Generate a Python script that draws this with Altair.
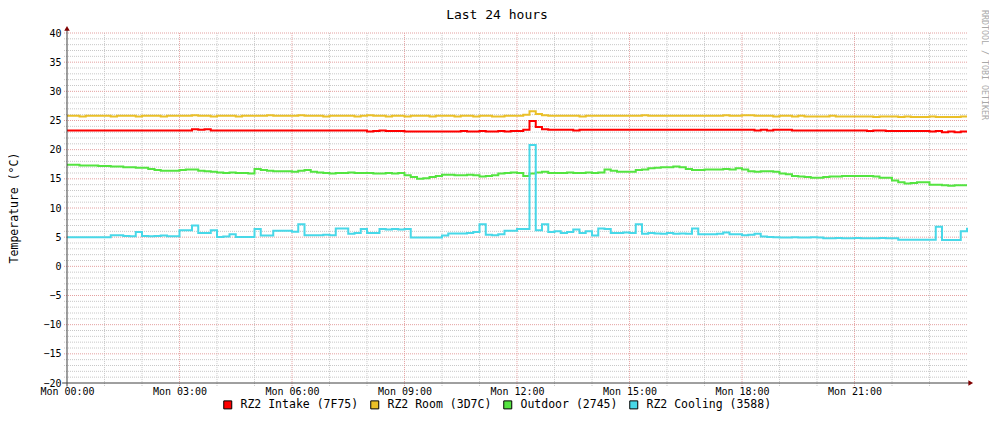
import altair as alt
import pandas as pd

# ---------------- text ----------------
title_text = "Last 24 hours"
y_title = "Temperature (°C)"
watermark_text = "RRDTOOL / TOBI OETIKER"

series_names = ["RZ2 Intake (7F75)", "RZ2 Room (3D7C)", "Outdoor (2745)", "RZ2 Cooling (3588)"]
series_colors = ["#FF0000", "#EAC028", "#54E440", "#48D8E8"]

x_tick_hours = [0, 3, 6, 9, 12, 15, 18, 21]
x_tick_labels = ["Mon 00:00", "Mon 03:00", "Mon 06:00", "Mon 09:00",
                 "Mon 12:00", "Mon 15:00", "Mon 18:00", "Mon 21:00"]
y_ticks = [-20, -15, -10, -5, 0, 5, 10, 15, 20, 25, 30, 35, 40]
y_minor = list(range(-20, 41))
x_minor = list(range(0, 24))

steps_per_hour = 6  # one sample every 10 minutes

# ---------------- series (°C), 10-minute samples, 00:00 .. 24:00 ----------------
intake = [
    23.3, 23.3, 23.3, 23.3, 23.3, 23.3,
    23.3, 23.3, 23.3, 23.3, 23.3, 23.3,
    23.3, 23.3, 23.3, 23.3, 23.3, 23.3,
    23.3, 23.3, 23.5, 23.4, 23.5, 23.3,
    23.3, 23.3, 23.3, 23.3, 23.3, 23.3,
    23.3, 23.3, 23.3, 23.3, 23.3, 23.3,
    23.3, 23.3, 23.3, 23.3, 23.3, 23.3,
    23.3, 23.3, 23.3, 23.3, 23.3, 23.3,
    23.1, 23.2, 23.3, 23.2, 23.2, 23.2,
    23.1, 23.1, 23.1, 23.1, 23.1, 23.1,
    23.1, 23.1, 23.1, 23.2, 23.1, 23.1,
    23.2, 23.1, 23.1, 23.2, 23.1, 23.2,
    23.2, 23.4, 24.9, 23.9, 23.5, 23.4,
    23.4, 23.4, 23.4, 23.3, 23.4, 23.4,
    23.4, 23.4, 23.4, 23.4, 23.4, 23.4,
    23.4, 23.4, 23.4, 23.4, 23.4, 23.4,
    23.4, 23.4, 23.4, 23.4, 23.4, 23.4,
    23.4, 23.4, 23.4, 23.4, 23.4, 23.4,
    23.4, 23.4, 23.3, 23.4, 23.3, 23.4,
    23.4, 23.4, 23.3, 23.3, 23.3, 23.3,
    23.3, 23.3, 23.3, 23.3, 23.3, 23.3,
    23.3, 23.3, 23.2, 23.3, 23.3, 23.2,
    23.2, 23.2, 23.2, 23.2, 23.2, 23.2,
    23.1, 23.2, 23.0, 23.1, 23.0, 23.1,
    23.1,
]

room = [
    25.8, 25.8, 25.7, 25.8, 25.8, 25.8,
    25.8, 25.7, 25.8, 25.8, 25.8, 25.7,
    25.8, 25.8, 25.8, 25.7, 25.8, 25.8,
    25.8, 25.8, 25.9, 25.8, 25.8, 25.7,
    25.8, 25.8, 25.8, 25.7, 25.8, 25.8,
    25.8, 25.8, 25.9, 25.8, 25.8, 25.8,
    25.8, 25.9, 25.8, 25.8, 25.8, 25.7,
    25.8, 25.8, 25.8, 25.8, 25.7, 25.8,
    25.9, 25.8, 25.8, 25.7, 25.8, 25.8,
    25.7, 25.8, 25.8, 25.8, 25.7, 25.8,
    25.8, 25.8, 25.7, 25.8, 25.8, 25.7,
    25.8, 25.8, 25.7, 25.7, 25.8, 25.8,
    25.8, 26.0, 26.6, 26.1, 25.9, 25.8,
    25.8, 25.8, 25.8, 25.8, 25.7, 25.8,
    25.8, 25.8, 25.8, 25.8, 25.8, 25.8,
    25.8, 25.8, 25.9, 25.8, 25.8, 25.8,
    25.8, 25.8, 25.8, 25.8, 25.8, 25.8,
    25.8, 25.8, 25.8, 25.9, 25.8, 25.8,
    25.9, 25.9, 25.8, 25.8, 25.8, 25.7,
    25.8, 25.8, 25.7, 25.8, 25.7, 25.7,
    25.7, 25.7, 25.8, 25.7, 25.7, 25.7,
    25.7, 25.7, 25.7, 25.6, 25.7, 25.7,
    25.7, 25.6, 25.7, 25.6, 25.6, 25.6,
    25.7, 25.6, 25.6, 25.6, 25.6, 25.7,
    25.7,
]

outdoor = [
    17.4, 17.4, 17.3, 17.3, 17.3, 17.2,
    17.2, 17.1, 17.1, 17.0, 17.0, 16.9,
    16.9, 16.7, 16.5, 16.4, 16.4, 16.4,
    16.5, 16.6, 16.6, 16.4, 16.3, 16.2,
    16.1, 16.0, 16.1, 16.0, 16.0, 15.9,
    16.7, 16.5, 16.4, 16.3, 16.3, 16.3,
    16.2, 16.4, 16.5, 16.2, 16.1, 16.0,
    15.9, 16.0, 16.0, 16.1, 16.0, 16.0,
    16.0, 15.9, 15.9, 16.0, 15.9, 16.0,
    15.6, 15.3, 15.0, 15.1, 15.3, 15.5,
    15.7, 15.7, 15.6, 15.6, 15.7, 15.6,
    15.4, 15.5, 15.6, 15.9, 16.0, 16.1,
    16.0, 15.5, 15.9, 16.1, 16.2, 16.0,
    16.0, 16.0, 16.1, 16.0, 16.0, 16.1,
    16.0, 16.1, 16.6, 16.4, 16.2, 16.2,
    16.2, 16.5, 16.6, 16.8, 16.9, 17.0,
    17.0, 17.1, 17.0, 16.7, 16.5, 16.5,
    16.6, 16.6, 16.6, 16.7, 16.6, 16.8,
    16.6, 16.3, 16.2, 16.3, 16.3, 16.2,
    15.9, 15.8, 15.5, 15.4, 15.3, 15.2,
    15.2, 15.3, 15.4, 15.4, 15.5, 15.5,
    15.5, 15.5, 15.5, 15.4, 15.2, 15.2,
    14.7, 14.4, 14.2, 14.3, 14.4, 14.4,
    14.0, 14.0, 13.9, 13.8, 13.9, 13.9,
    13.9,
]

cooling = [
    5.0, 5.0, 5.0, 5.0, 5.0, 5.0,
    5.0, 5.35, 5.35, 5.2, 5.15, 5.9,
    5.2, 5.15, 5.2, 5.3, 5.15, 5.15,
    6.2, 6.2, 7.0, 5.7, 5.7, 6.2,
    5.05, 5.1, 5.5, 5.05, 5.05, 5.05,
    6.4, 5.3, 5.3, 6.1, 6.1, 6.1,
    5.95, 7.2, 5.35, 5.35, 5.35, 5.4,
    5.35, 6.5, 6.5, 5.6, 5.7, 6.4,
    5.7, 5.7, 6.4, 6.3, 6.4, 6.3,
    6.4, 4.95, 4.95, 4.95, 4.95, 4.95,
    5.3, 5.65, 5.65, 5.65, 5.7, 5.9,
    7.2, 5.4, 5.35, 5.5, 6.1, 6.1,
    6.4, 6.4, 20.8, 6.2, 7.2, 5.9,
    6.0, 5.7, 5.9, 6.3, 5.7, 6.0,
    5.3, 6.5, 6.4, 5.7, 5.7, 5.8,
    5.7, 7.2, 5.6, 5.7, 5.65, 5.6,
    5.7, 5.6, 5.65, 5.6, 6.5, 5.5,
    5.5, 5.5, 5.6, 5.8, 5.5, 5.5,
    5.35, 5.4, 5.6, 5.1, 5.05, 5.0,
    4.95, 4.95, 5.0, 4.95, 4.95, 5.0,
    4.95, 4.8, 4.8, 4.85, 4.8, 4.8,
    4.85, 4.8, 4.8, 4.8, 4.85, 4.8,
    4.8, 4.55, 4.55, 4.55, 4.55, 4.55,
    4.55, 6.8, 4.5, 4.5, 4.5, 6.0,
    6.6,
]

# ---------------- tables ----------------
hours = [i / steps_per_hour for i in range(len(intake))]
rows = []
for name, col, vals in zip(series_names, series_colors, [intake, room, outdoor, cooling]):
    for h, v in zip(hours, vals):
        rows.append({"hour": h, "temp": v, "series": name, "col": col})
df = pd.DataFrame(rows)
legend_df = pd.DataFrame({"series": series_names})

W, H = 900, 350
FONT = "DejaVu Sans Mono"

xscale = alt.Scale(domain=[0, 24], nice=False, zero=False)
yscale = alt.Scale(domain=[-20, 40], nice=False, zero=False)

label_expr = ""
for h, lab in zip(x_tick_hours, x_tick_labels):
    label_expr += f"datum.value == {h} ? '{lab}' : "
label_expr += "''"

x_axis = alt.Axis(values=x_tick_hours, labelExpr=label_expr, domain=False, ticks=False,
                  grid=False, title=None, labelFont=FONT, labelFontSize=10,
                  labelColor="#000000", labelPadding=3, labelFlush=False,
                  labelOverlap=False, labelBound=False)
y_axis = alt.Axis(values=y_ticks, domain=False, ticks=False, grid=False, title=None,
                  labelFont=FONT, labelFontSize=10, labelColor="#000000",
                  labelPadding=6, labelFlush=False, labelOverlap=False)


def X(field):
    return alt.X(field, scale=xscale, axis=x_axis, title=None)


def Y(field):
    return alt.Y(field, scale=yscale, axis=y_axis, title=None)


# grid lines (extend a few pixels past the axes like rrdtool ticks)
vminor = pd.DataFrame({"x": [v for v in x_minor if v % 3 != 0], "y0": -20.5, "y1": 40})
vmajor = pd.DataFrame({"x": [v for v in x_tick_hours if v != 0], "y0": -20.5, "y1": 40})
hminor = pd.DataFrame({"y": [v for v in y_minor if v % 5 != 0], "x0": -0.08, "x1": 24})
hmajor = pd.DataFrame({"y": [v for v in y_ticks if v != -20], "x0": -0.08, "x1": 24})

minor_col = "#C8C8C8"
major_col = "#E4A0A0"

g1 = alt.Chart(vminor).mark_rule(color=minor_col, strokeDash=[1, 1], strokeWidth=1).encode(
    x=X("x:Q"), y=Y("y0:Q"), y2="y1:Q")
g2 = alt.Chart(hminor).mark_rule(color=minor_col, strokeDash=[1, 1], strokeWidth=1).encode(
    y=Y("y:Q"), x=X("x0:Q"), x2="x1:Q")
g3 = alt.Chart(vmajor).mark_rule(color=major_col, strokeDash=[1, 1], strokeWidth=1).encode(
    x=X("x:Q"), y=Y("y0:Q"), y2="y1:Q")
g4 = alt.Chart(hmajor).mark_rule(color=major_col, strokeDash=[1, 1], strokeWidth=1).encode(
    y=Y("y:Q"), x=X("x0:Q"), x2="x1:Q")

lines = alt.Chart(df).mark_line(interpolate="step-after", strokeWidth=2).encode(
    x=X("hour:Q"),
    y=Y("temp:Q"),
    stroke=alt.Stroke("col:N", scale=None),
    detail="series:N",
)

color_scale = alt.Scale(domain=series_names, range=series_colors)

# legend driven by a square layer that draws nothing in the plot
legend_layer = alt.Chart(legend_df).transform_filter("false").mark_square(
    filled=True, stroke="#000000", strokeWidth=1, size=64).encode(
    x=alt.X("series:N", axis=None, title=None),
    fill=alt.Fill("series:N", scale=color_scale, legend=alt.Legend(
        title=None, orient="none", legendX=155, legendY=366, direction="horizontal",
        symbolType="square", symbolSize=64, symbolStrokeColor="#000000",
        symbolStrokeWidth=1, labelFont=FONT, labelFontSize=11.5, labelColor="#000000",
        columnPadding=9, labelOffset=7, padding=0, symbolOpacity=1)),
)

# axes with arrows
yaxis_df = pd.DataFrame({"x": [0], "y0": [-20.6], "y1": [40.8]})
xaxis_df = pd.DataFrame({"y": [-20], "x0": [-0.13], "x1": [24.1]})
axis_col = "#404040"
ax1 = alt.Chart(yaxis_df).mark_rule(color=axis_col, strokeWidth=1).encode(
    x=X("x:Q"), y=Y("y0:Q"), y2="y1:Q")
ax2 = alt.Chart(xaxis_df).mark_rule(color=axis_col, strokeWidth=1).encode(
    y=Y("y:Q"), x=X("x0:Q"), x2="x1:Q")
arrow_up = alt.Chart(pd.DataFrame({"x": [0], "y": [40.8]})).mark_point(
    shape="triangle-up", filled=True, color="#800000", size=30, opacity=1).encode(
    x=X("x:Q"), y=Y("y:Q"))
arrow_right = alt.Chart(pd.DataFrame({"x": [24.1], "y": [-20]})).mark_point(
    shape="triangle-right", filled=True, color="#800000", size=30, opacity=1).encode(
    x=X("x:Q"), y=Y("y:Q"))

# texts
title_mark = alt.Chart(pd.DataFrame({"t": [title_text]})).mark_text(
    font=FONT, fontSize=13, color="#000000", align="center", baseline="middle").encode(
    text="t:N", x=alt.value(430), y=alt.value(-18))
ytitle_mark = alt.Chart(pd.DataFrame({"t": [y_title]})).mark_text(
    font=FONT, fontSize=11.5, color="#000000", align="center", baseline="middle", angle=270).encode(
    text="t:N", x=alt.value(-52), y=alt.value(175))
wm_mark = alt.Chart(pd.DataFrame({"t": [watermark_text]})).mark_text(
    font=FONT, fontSize=8.3, color="#A8A8A8", align="left", baseline="middle", angle=90).encode(
    text="t:N", x=alt.value(917), y=alt.value(-23))

main = alt.layer(
    g1, g2, g3, g4, lines, ax1, ax2, arrow_up, arrow_right,
    title_mark, ytitle_mark, wm_mark,
)

chart = alt.layer(main, legend_layer).resolve_scale(x="independent").properties(
    width=W, height=H,
    autosize=alt.AutoSizeParams(type="none"),
    padding={"left": 59, "top": 25, "right": 22, "bottom": 28},
    background="#FFFFFF",
).configure_view(stroke=None)

chart.save("out.html", embed_options={"renderer": "svg", "actions": False})
